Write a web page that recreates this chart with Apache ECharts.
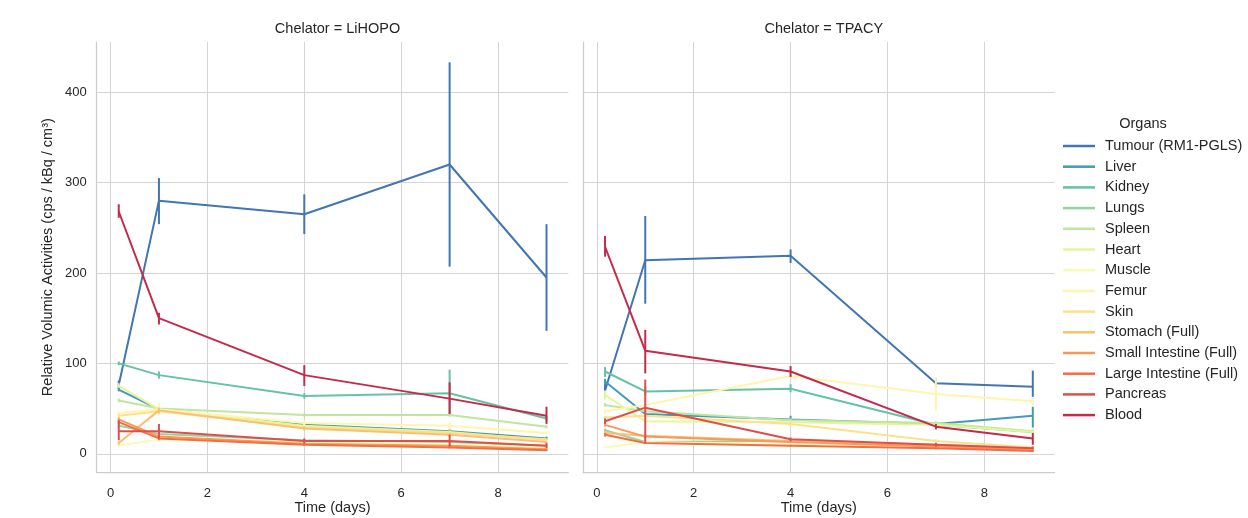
<!DOCTYPE html>
<html>
<head>
<meta charset="utf-8">
<script src="https://cdn.jsdelivr.net/npm/echarts@6/dist/echarts.min.js"></script>
<style>
html,body{margin:0;padding:0;background:#ffffff;}
#chart{width:1248px;height:518px;}
</style>
</head>
<body>
<div id="chart"></div>
<script>
const days = [0.17, 1, 4, 7, 9];
const panels = ['LiHOPO', 'TPACY'];
const organs = ['Tumour (RM1-PGLS)', 'Liver', 'Kidney', 'Lungs', 'Spleen', 'Heart', 'Muscle', 'Femur', 'Skin',
  'Stomach (Full)', 'Small Intestine (Full)', 'Large Intestine (Full)', 'Pancreas', 'Blood'];
const palette = ['#4175b4', '#439bb5', '#66c2a5', '#94d4a4', '#bfe5a0', '#e6f598', '#f7fcb2', '#fff5ae', '#fee08b',
  '#fdbf6f', '#fa9857', '#f46d43', '#df4e4b', '#c32a4b'];

const lihopoMean = [
  [76, 280, 265, 320, 195], [71, 49, 32, 25, 17], [100, 87, 64, 67, 39], [31, 22, 15, 13, 9],
  [59, 50, 43, 43, 30], [75, 49, 31, 24, 15], [9, 16, 13, 10, 7], [45, 49, 34, 31, 23],
  [42, 47, 29, 23, 16], [12, 48, 28, 21, 13], [38, 19, 11, 9, 5], [35, 17, 10, 7, 4],
  [25, 25, 14, 14, 9], [268, 150, 87, 61, 42]
];
const lihopoLow = [
  [72, 254, 243, 207, 136], [69, 47, 30, 23, 15], [98, 83, 61, 42, 36], [29, 20, 14, 12, 8],
  [57, 48, 41, 41, 28], [73, 46, 29, 22, 14], [8, 14, 12, 9, 6], [43, 43, 31, 27, 21],
  [40, 44, 27, 21, 15], [10, 45, 26, 19, 12], [36, 17, 10, 7, 4], [33, 15, 9, 6, 3],
  [15, 17, 11, 8, 6], [261, 143, 75, 44, 33]
];
const lihopoHigh = [
  [81, 305, 287, 433, 254], [74, 52, 34, 27, 19], [102, 91, 67, 93, 42], [33, 24, 16, 14, 10],
  [61, 52, 45, 45, 32], [78, 52, 33, 26, 16], [10, 18, 14, 11, 8], [47, 56, 37, 35, 25],
  [44, 50, 31, 25, 17], [14, 51, 30, 23, 14], [40, 21, 12, 10, 6], [37, 19, 11, 8, 5],
  [37, 33, 17, 21, 12], [276, 156, 98, 79, 52]
];
const tpacyMean = [
  [70, 214, 219, 78, 74], [80, 44, 38, 33, 42], [91, 69, 72, 32, 24], [26, 13, 14, 10, 6],
  [54, 47, 37, 34, 25], [65, 36, 35, 32, 24], [7, 13, 10, 7, 4], [47, 54, 86, 66, 58],
  [40, 42, 33, 14, 7], [23, 20, 14, 9, 5], [32, 19, 13, 8, 4], [21, 12, 9, 6, 3],
  [36, 51, 16, 10, 6], [229, 114, 91, 30, 17]
];
const tpacyLow = [
  [64, 166, 211, 74, 63], [77, 42, 35, 31, 29], [85, 65, 68, 30, 22], [24, 12, 13, 9, 5],
  [52, 45, 35, 32, 23], [60, 34, 33, 30, 22], [6, 12, 9, 6, 3], [44, 51, 83, 48, 54],
  [38, 40, 31, 12, 6], [21, 18, 13, 8, 4], [30, 17, 12, 7, 3], [19, 11, 8, 5, 2],
  [33, 12, 14, 8, 5], [218, 89, 85, 27, 10]
];
const tpacyHigh = [
  [77, 263, 226, 84, 92], [83, 46, 42, 35, 52], [96, 74, 77, 35, 26], [28, 14, 15, 11, 7],
  [56, 49, 39, 36, 27], [70, 38, 37, 34, 26], [8, 14, 11, 8, 5], [50, 57, 89, 84, 62],
  [42, 44, 35, 16, 8], [25, 22, 15, 10, 6], [34, 21, 14, 9, 5], [23, 13, 10, 7, 4],
  [39, 82, 18, 12, 8], [241, 137, 97, 33, 23]
];

const FONT = 'Liberation Sans, Arial, sans-serif';
const TXT = '#262626';
const GRIDC = '#d5d5d5';
const SPINE = '#cccccc';

const gridW = 471.6, gridH = 430.3, gridTop = 42;
const grids = [
  {left: 96.7, top: gridTop, width: gridW, height: gridH, outerBoundsMode: 'none', containLabel: false},
  {left: 583, top: gridTop, width: gridW, height: gridH, outerBoundsMode: 'none', containLabel: false}
];

function xAxisFor(i) {
  return {
    type: 'value', gridIndex: i, min: -0.285, max: 9.45, splitNumber: 5,
    name: 'Time (days)', nameLocation: 'middle', nameGap: 28, nameMoveOverlap: false,
    nameTextStyle: {fontFamily: FONT, fontSize: 14.5, color: TXT},
    axisLine: {show: true, onZero: false, lineStyle: {color: SPINE, width: 1.25}},
    axisTick: {show: false},
    axisLabel: {fontFamily: FONT, fontSize: 13, color: TXT, margin: 15, showMinLabel: false, showMaxLabel: false},
    splitLine: {show: true, showMinLine: false, showMaxLine: false, lineStyle: {color: GRIDC, width: 1}}
  };
}
function yAxisFor(i) {
  return {
    type: 'value', gridIndex: i, min: -20.5, max: 455.5, splitNumber: 5,
    name: i === 0 ? 'Relative Volumic Activities (cps / kBq / cm³)' : '',
    nameLocation: 'middle', nameGap: 41, nameMoveOverlap: false,
    nameTextStyle: {fontFamily: FONT, fontSize: 14.5, color: TXT},
    axisLine: {show: true, onZero: false, lineStyle: {color: SPINE, width: 1.25}},
    axisTick: {show: false},
    axisLabel: {show: i === 0, fontFamily: FONT, fontSize: 13, color: TXT, margin: 10, showMinLabel: false, showMaxLabel: false},
    splitLine: {show: true, showMinLine: false, showMaxLine: false, lineStyle: {color: GRIDC, width: 1}}
  };
}

const series = [];
const panelData = [[lihopoMean, lihopoLow, lihopoHigh], [tpacyMean, tpacyLow, tpacyHigh]];
panelData.forEach(function (pd, p) {
  const mean = pd[0], low = pd[1], high = pd[2];
  organs.forEach(function (name, k) {
    const color = palette[k];
    series.push({
      type: 'line', name: name, xAxisIndex: p, yAxisIndex: p,
      data: days.map(function (d, j) { return [d, mean[k][j]]; }),
      symbol: 'none', smooth: false, z: 2 + k * 0.01,
      lineStyle: {color: color, width: 2},
      itemStyle: {color: color},
      emphasis: {disabled: true},
      animation: false
    });
    series.push({
      type: 'custom', name: name, xAxisIndex: p, yAxisIndex: p,
      data: days.map(function (d, j) { return [d, low[k][j], high[k][j]]; }),
      encode: {x: 0, y: [1, 2]},
      z: 2 + k * 0.01,
      itemStyle: {color: color},
      renderItem: function (params, api) {
        const a = api.coord([api.value(0), api.value(1)]);
        const b = api.coord([api.value(0), api.value(2)]);
        return {
          type: 'line',
          shape: {x1: a[0], y1: a[1], x2: b[0], y2: b[1]},
          style: {stroke: color, lineWidth: 2}
        };
      },
      animation: false
    });
  });
});

const chart = echarts.init(document.getElementById('chart'), null, {renderer: 'canvas'});
chart.setOption({
  backgroundColor: '#ffffff',
  animation: false,
  textStyle: {fontFamily: FONT},
  title: [
    {text: 'Chelator = ' + panels[0], left: 96.7 + gridW / 2, top: 16, textAlign: 'center',
     textStyle: {fontFamily: FONT, fontSize: 14.5, fontWeight: 'normal', color: TXT}},
    {text: 'Chelator = ' + panels[1], left: 583 + gridW / 2, top: 16, textAlign: 'center',
     textStyle: {fontFamily: FONT, fontSize: 14.5, fontWeight: 'normal', color: TXT}},
    {text: 'Organs', left: 1138, top: 111, textAlign: 'center',
     textStyle: {fontFamily: FONT, fontSize: 14.5, fontWeight: 'normal', color: TXT}}
  ],
  legend: {
    orient: 'vertical', left: 1058, top: 133,
    data: organs, icon: 'rect', itemWidth: 32, itemHeight: 2.5, itemGap: 4.7,
    selectedMode: false,
    textStyle: {fontFamily: FONT, fontSize: 14.5, color: TXT, lineHeight: 16, padding: [0, 0, 0, 5]}
  },
  grid: grids,
  xAxis: [xAxisFor(0), xAxisFor(1)],
  yAxis: [yAxisFor(0), yAxisFor(1)],
  series: series
});
</script>
</body>
</html>
